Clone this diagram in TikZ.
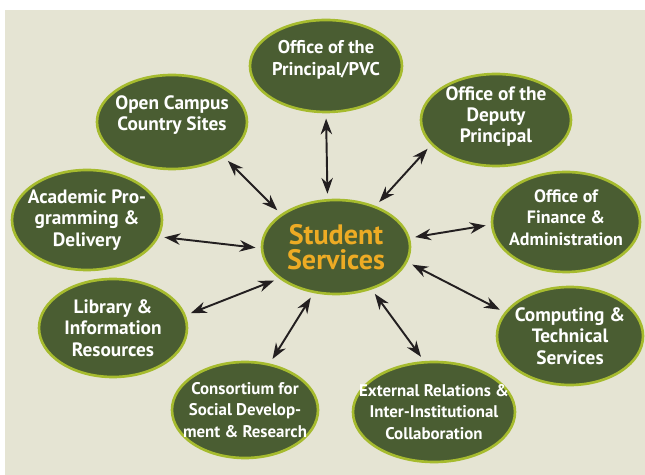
\documentclass[tikz,border=0pt]{standalone}
\usepackage{fontspec}
\setmainfont{PT Sans}
\usetikzlibrary{shapes.geometric,arrows.meta}

\definecolor{paper}{RGB}{229,228,211}
\definecolor{olive}{RGB}{74,93,50}
\definecolor{lime}{RGB}{166,187,46}
\definecolor{gold}{RGB}{237,171,36}
\definecolor{ink}{RGB}{35,31,32}

\begin{document}
\begin{tikzpicture}[x=0.02cm,y=-0.02cm,
  unit/.style 2 args={ellipse, draw=lime, line width=1.5pt, fill=olive,
    inner sep=0pt, minimum width={#1*0.02cm}, minimum height={#2*0.02cm}},
  blurb/.style={align=center, text=white, inner sep=0pt,
    font=\fontsize{11}{12.2}\selectfont\bfseries},
  small/.style={font=\fontsize{9.6}{12.2}\selectfont\bfseries},
  link/.style={{Stealth[length=9pt,width=6.5pt]}-{Stealth[length=9pt,width=6.5pt]},
    draw=ink, line width=1.1pt, shorten >=3pt, shorten <=3pt}]

% Page and background
\useasboundingbox (0,0) rectangle (645,475);
\fill[paper] (5,10) rectangle (645,475);

% Centre
\node[unit={148}{94}, label={[blurb, text=gold, font=\fontsize{16}{14.5}\selectfont\bfseries]center:{Student\\Services}}]
  (ss) at (336,247) {};

% Surrounding offices
\node[unit={152}{92}, label={[blurb, font=\fontsize{10.5}{12.2}\selectfont\bfseries, yshift=3.5pt]center:{Office of the\\Principal/PVC}}]
  (pvc) at (326,66) {};
\node[unit={150}{94}, label={[blurb, yshift=4pt]center:{Open Campus\\Country Sites}}]
  (ocs) at (172,122) {};
\node[unit={150}{92}, label={[blurb, yshift=2pt]center:{Office of the\\Deputy\\Principal}}]
  (dep) at (496,120) {};
\node[unit={150}{100}, label={[blurb]center:{Academic Pro-\\gramming \&\\Delivery}}]
  (apd) at (87,220) {};
\node[unit={148}{100}, label={[blurb, font=\fontsize{10.2}{12.2}\selectfont\bfseries, yshift=2.5pt]center:{Office of\\Finance \&\\Administration}}]
  (fin) at (566,222) {};
\node[unit={148}{98}, label={[blurb]center:{Library \&\\Information\\Resources}}]
  (lib) at (113,328) {};
\node[unit={146}{98}, label={[blurb]center:{Computing \&\\Technical\\Services}}]
  (cts) at (570,336) {};
\node[unit={146}{96}, label={[blurb, small]center:{Consortium for\\Social Develop-\\ment \& Research}}]
  (csd) at (245,410) {};
\node[unit={162}{100}, label={[blurb, small]center:{External Relations \&\\Inter-Institutional\\Collaboration}}]
  (eri) at (434,412) {};

% Links to the centre
\draw[link] (pvc.270) -- (ss.100);
\draw[link] (ocs.326) -- (ss.149);
\draw[link] (dep.201) -- (ss.46);
\draw[link] (apd.-13) -- (ss.181);
\draw[link] (fin.182) -- (ss.7);
\draw[link] (lib.10) -- (ss.209);
\draw[link] (cts.160) -- (ss.-12);
\draw[link] (csd.62) -- (ss.244);
\draw[link] (eri.101) -- (ss.310);

\end{tikzpicture}
\end{document}
